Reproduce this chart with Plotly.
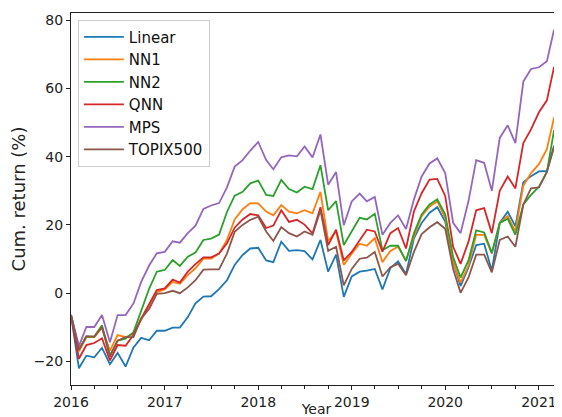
import pandas as pd
import plotly.graph_objects as go

start_month = "2016-01-01"
n_months = 64

linear = [-6.4, -22.0, -18.3, -18.8, -16.0, -20.8, -17.5, -21.5, -15.9, -13.1,
          -13.8, -11.0, -11.0, -10.1, -10.1, -7.0, -3.0, -1.0, -0.9, 1.2,
          3.8, 8.3, 11.2, 13.1, 13.3, 9.6, 9.1, 15.1, 12.4, 12.6,
          12.3, 9.9, 15.6, 6.3, 11.3, -1.1, 4.9, 6.3, 6.6, 7.1,
          1.1, 7.4, 9.3, 5.6, 16.1, 20.6, 23.6, 25.2, 21.0, 9.1,
          2.1, 7.6, 14.1, 14.5, 6.6, 20.6, 23.9, 19.6, 32.5, 34.3,
          35.7, 35.8, 43.2, 39.0]
nn1 = [-6.4, -17.0, -12.9, -12.9, -10.2, -16.8, -12.3, -12.9, -11.9, -7.6,
       -3.6, 0.3, 1.1, 3.3, 2.8, 5.3, 7.3, 10.1, 10.1, 11.6,
       15.6, 21.6, 24.6, 26.4, 26.3, 23.9, 22.8, 25.8, 23.9, 23.4,
       24.3, 23.4, 29.7, 15.3, 18.1, 8.3, 11.6, 14.5, 13.9, 16.1,
       9.1, 12.4, 13.6, 9.6, 16.6, 22.6, 25.4, 26.9, 22.1, 9.1,
       3.1, 8.1, 17.1, 17.1, 11.6, 20.6, 22.6, 18.1, 31.5, 35.2,
       37.8, 42.2, 51.5, 46.8]
nn2 = [-6.4, -16.4, -12.7, -12.7, -9.4, -18.2, -13.9, -13.3, -11.4, -5.4,
       1.3, 6.3, 6.8, 9.7, 8.0, 10.7, 11.9, 15.6, 16.0, 17.2,
       23.8, 28.6, 29.7, 32.2, 33.0, 28.8, 28.5, 33.2, 30.5, 29.5,
       31.2, 30.5, 37.5, 24.3, 27.0, 14.1, 18.1, 22.1, 21.6, 23.3,
       12.6, 13.9, 13.9, 9.4, 17.6, 23.1, 26.0, 27.5, 23.1, 10.6,
       4.6, 9.6, 18.4, 17.8, 11.8, 20.6, 21.8, 17.1, 26.0, 28.8,
       31.2, 35.5, 47.8, 43.8]
qnn = [-6.4, -19.2, -15.2, -14.6, -13.2, -19.7, -15.2, -15.4, -12.2, -7.4,
       -3.2, 0.9, 1.4, 4.0, 3.1, 6.3, 8.5, 10.5, 10.5, 11.6,
       14.6, 19.2, 21.6, 23.2, 22.8, 19.1, 19.8, 24.3, 20.9, 21.5,
       20.1, 17.5, 25.2, 14.1, 18.6, 9.6, 12.1, 15.6, 18.6, 18.1,
       12.2, 17.6, 19.1, 13.1, 24.0, 29.3, 33.3, 33.5, 28.5, 13.6,
       8.6, 15.1, 24.3, 24.9, 17.6, 30.0, 34.2, 30.7, 44.0, 48.0,
       53.0, 56.5, 66.3, 61.7]
mps = [-6.4, -15.5, -9.9, -9.9, -6.4, -14.4, -6.4, -6.4, -3.0, 3.3,
       8.1, 11.7, 12.1, 15.2, 14.8, 17.6, 19.8, 24.7, 25.7, 26.4,
       31.0, 37.1, 39.0, 41.8, 44.3, 39.0, 36.3, 39.8, 40.4, 40.1,
       43.0, 39.8, 46.5, 31.8, 35.5, 19.9, 26.9, 29.2, 26.9, 28.2,
       17.1, 20.6, 22.8, 18.8, 27.5, 34.2, 38.0, 39.5, 35.2, 20.6,
       17.6, 27.0, 39.0, 38.2, 30.0, 45.5, 49.2, 44.0, 62.0, 65.7,
       66.2, 68.0, 77.2, 72.7]
topix500 = [-6.4, -16.6, -12.6, -12.7, -9.9, -18.6, -13.9, -12.9, -12.9, -7.4,
            -4.6, -0.2, 0.0, 0.7, 0.0, 1.7, 3.8, 6.9, 7.0, 7.0,
            11.6, 18.0, 20.0, 21.5, 22.4, 18.1, 15.3, 19.4, 17.6, 16.6,
            18.1, 17.1, 24.3, 12.4, 13.6, 2.3, 7.1, 10.1, 10.4, 12.1,
            4.9, 7.6, 8.6, 5.3, 12.1, 17.3, 19.3, 20.8, 18.9, 7.1,
            0.1, 4.6, 11.3, 11.3, 6.1, 15.6, 16.6, 13.6, 26.0, 30.7,
            31.0, 35.5, 42.8, 38.5]

series_names = ["Linear", "NN1", "NN2", "QNN", "MPS", "TOPIX500"]
series_values = [linear, nn1, nn2, qnn, mps, topix500]
colors = ["#1f77b4", "#ff7f0e", "#2ca02c", "#d62728", "#9467bd", "#8c564b"]
y_ticks = [-20, 0, 20, 40, 60, 80]
x_tick_labels = ["2016", "2017", "2018", "2019", "2020", "2021"]

dates = pd.date_range(start_month, periods=n_months, freq="MS")

fig = go.Figure()
for name, vals, col in zip(series_names, series_values, colors):
    fig.add_trace(go.Scatter(x=dates, y=vals, mode="lines", name=name,
                             legendgroup=name,
                             line=dict(color=col, width=1.8)))

font = "DejaVu Sans, sans-serif"
fig.update_layout(
    width=554, height=409,
    margin=dict(l=63, r=0, t=5, b=32, autoexpand=False),
    paper_bgcolor="white", plot_bgcolor="white",
    font=dict(family=font, size=14, color="#222"),
    showlegend=True,
    legend=dict(x=0.014, y=0.982, xanchor="left", yanchor="top",
                bgcolor="rgba(255,255,255,0.85)", bordercolor="#cccccc", borderwidth=1,
                font=dict(size=15, family=font, color="#111"),
                itemwidth=40, tracegroupgap=0),
)
fig.update_xaxes(
    type="date",
    automargin=False,
    range=[dates[0], dates[-1]],
    tickvals=[pd.Timestamp(y + "-01-01") for y in x_tick_labels],
    ticktext=x_tick_labels,
    ticks="outside", ticklen=4, tickwidth=1, tickcolor="#222",
    minor=dict(dtick="M3", tick0=start_month, ticks="outside", ticklen=2.5, tickcolor="#222", showgrid=False),
    showline=True, linecolor="#222", linewidth=1, mirror=True,
    showgrid=False, zeroline=False,
    title=dict(text="Year", standoff=0, font=dict(size=14)),
    tickfont=dict(size=14),
)
fig.update_yaxes(
    automargin=False,
    range=[-26.9, 82.1],
    tickvals=y_ticks,
    ticktext=[("\u2212" + str(abs(v))) if v < 0 else str(v) for v in y_ticks],
    ticks="outside", ticklen=4, tickwidth=1, tickcolor="#222",
    showline=True, linecolor="#222", linewidth=1, mirror=False,
    showgrid=False, zeroline=False,
    title=dict(text="Cum. return (%)", standoff=4, font=dict(size=18)),
    tickfont=dict(size=14),
)

fig.write_html("out.html")
